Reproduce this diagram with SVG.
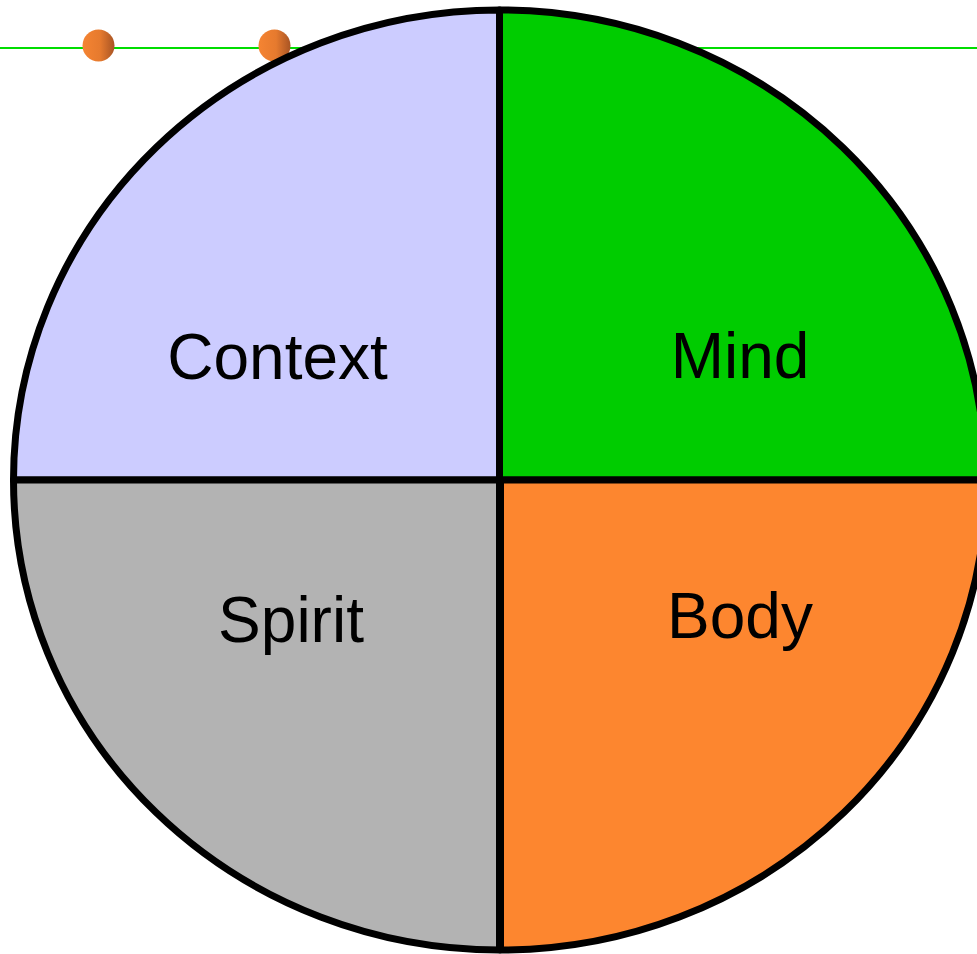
<svg xmlns="http://www.w3.org/2000/svg" width="977" height="954" viewBox="0 0 977 954">
<defs>
<linearGradient id="ball" x1="0" y1="0" x2="1" y2="0">
<stop offset="0" stop-color="#f58432"/>
<stop offset="0.55" stop-color="#e67a2e"/>
<stop offset="1" stop-color="#a85424"/>
</linearGradient>
</defs>
<style>
.q{stroke:#000;stroke-width:7;stroke-linejoin:round}
.lbl{font-family:"Liberation Sans",Arial,sans-serif;font-size:64px;fill:#000;text-anchor:middle}
.ball{fill:url(#ball)}
</style>
<rect width="977" height="954" fill="#fff"/>
<g id="connectors">
<line x1="0" y1="48" x2="977" y2="48" stroke="#00dd00" stroke-width="1.8"/>
</g>
<g id="ball1"><circle class="ball" cx="98.5" cy="45.5" r="16"/></g>
<g id="ball2"><circle class="ball" cx="274.5" cy="45.5" r="16"/></g>
<g id="context">
<path class="q" fill="#ccccff" d="M499.5,480 L13.5,480 A486,470 0 0 1 499.5,10 Z"/>
<text class="lbl" x="277.5" y="379">Context</text>
</g>
<g id="mind">
<path class="q" fill="#00cc00" d="M499.5,480 L499.5,10 A486,470 0 0 1 985.5,480 Z"/>
<text class="lbl" x="740" y="378">Mind</text>
</g>
<g id="spirit">
<path class="q" fill="#b3b3b3" d="M499.5,480 L13.5,480 A486,470 0 0 0 499.5,950 Z"/>
<text class="lbl" x="291" y="642">Spirit</text>
</g>
<g id="body">
<path class="q" fill="#fd862f" d="M500.5,480 L500.5,950 A486,470 0 0 0 986.5,480 Z"/>
<text class="lbl" x="740" y="638">Body</text>
</g>
</svg>
